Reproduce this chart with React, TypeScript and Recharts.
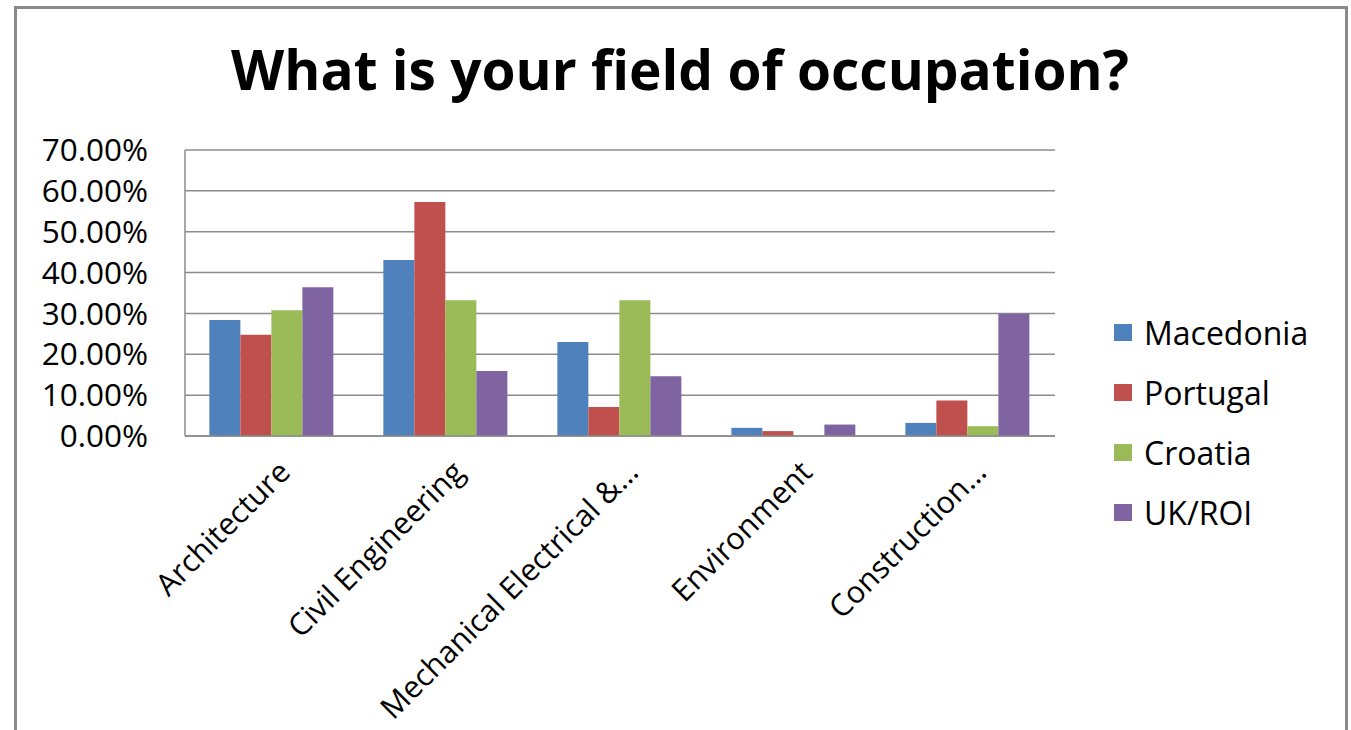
import { BarChart, Bar, XAxis, YAxis, CartesianGrid } from 'recharts'

const categories = [
  'Architecture',
  'Civil Engineering',
  'Mechanical Electrical &…',
  'Environment',
  'Construction…',
]

const macedonia = [0.284, 0.431, 0.23, 0.02, 0.032]
const portugal = [0.248, 0.573, 0.071, 0.012, 0.087]
const croatia = [0.308, 0.332, 0.332, 0, 0.024]
const ukRoi = [0.364, 0.159, 0.146, 0.028, 0.299]

const yTicks = [0, 0.1, 0.2, 0.3, 0.4, 0.5, 0.6, 0.7]

const SERIES = [
  { key: 'Macedonia', values: macedonia, color: '#4f81bd' },
  { key: 'Portugal', values: portugal, color: '#c0504d' },
  { key: 'Croatia', values: croatia, color: '#9bbb59' },
  { key: 'UK/ROI', values: ukRoi, color: '#8064a2' },
]

const data = categories.map((name, i) => {
  const row: Record<string, string | number> = { name }
  SERIES.forEach(s => {
    row[s.key] = s.values[i]
  })
  return row
})

const FONT = '"Open Sans", sans-serif'

const formatPct = (v: number) => `${(v * 100).toFixed(2)}%`

function CategoryTick({ x, y, payload }: any) {
  return (
    <g transform={`translate(${x + 20},${y + 36})`}>
      <text textAnchor="end" transform="rotate(-45)" fontSize={30.5} fontFamily={FONT} fill="#000">
        {payload.value}
      </text>
    </g>
  )
}

// legend sits to the right of the plot, drawn as plain html
function LegendBox() {
  return (
    <div
      style={{
        position: 'absolute',
        left: 1114,
        top: 302,
        fontFamily: FONT,
        fontSize: 32,
        color: '#000',
      }}
    >
      {SERIES.map(s => (
        <div key={s.key} style={{ height: 60, display: 'flex', alignItems: 'center' }}>
          <span style={{ width: 18, height: 17, background: s.color, marginRight: 12, display: 'inline-block' }} />
          <span>{s.key}</span>
        </div>
      ))}
    </div>
  )
}

export default function App() {
  return (
    <div style={{ position: 'relative', width: 1351, height: 730, background: '#fff', overflow: 'hidden' }}>
      <style>{'body{margin:0}'}</style>
      <div
        style={{
          position: 'absolute',
          left: 14,
          top: 6,
          width: 1334,
          height: 800,
          border: '3px solid #8a8a8a',
          boxSizing: 'border-box',
        }}
      />
      <div
        style={{
          position: 'absolute',
          left: 0,
          width: 1360,
          top: 41,
          textAlign: 'center',
          fontFamily: FONT,
          fontWeight: 700,
          fontSize: 55,
          lineHeight: '55px',
          color: '#000',
        }}
      >
        What is your field of occupation?
      </div>
      <div style={{ position: 'absolute', left: 0, top: 0 }}>
        <BarChart
          width={1351}
          height={730}
          data={data}
          margin={{ top: 150, right: 296, bottom: 94, left: 15 }}
          barCategoryGap="14%"
          barGap={0}
        >
          <CartesianGrid vertical={false} stroke="#8c8c8c" strokeWidth={1.5} />
          <XAxis
            dataKey="name"
            interval={0}
            height={200}
            tickLine={false}
            tickSize={0}
            tick={<CategoryTick />}
            axisLine={{ stroke: '#8c8c8c', strokeWidth: 1.5 }}
          />
          <YAxis
            width={170}
            domain={[0, 0.7]}
            ticks={yTicks}
            interval={0}
            tickFormatter={formatPct}
            tickLine={false}
            tickMargin={31}
            axisLine={{ stroke: '#8c8c8c', strokeWidth: 1.5 }}
            tick={{ fontSize: 31.5, fontFamily: FONT, fill: '#000' }}
          />
          {SERIES.map(s => (
            <Bar key={s.key} dataKey={s.key} fill={s.color} isAnimationActive={false} />
          ))}
        </BarChart>
      </div>
      <LegendBox />
    </div>
  )
}
